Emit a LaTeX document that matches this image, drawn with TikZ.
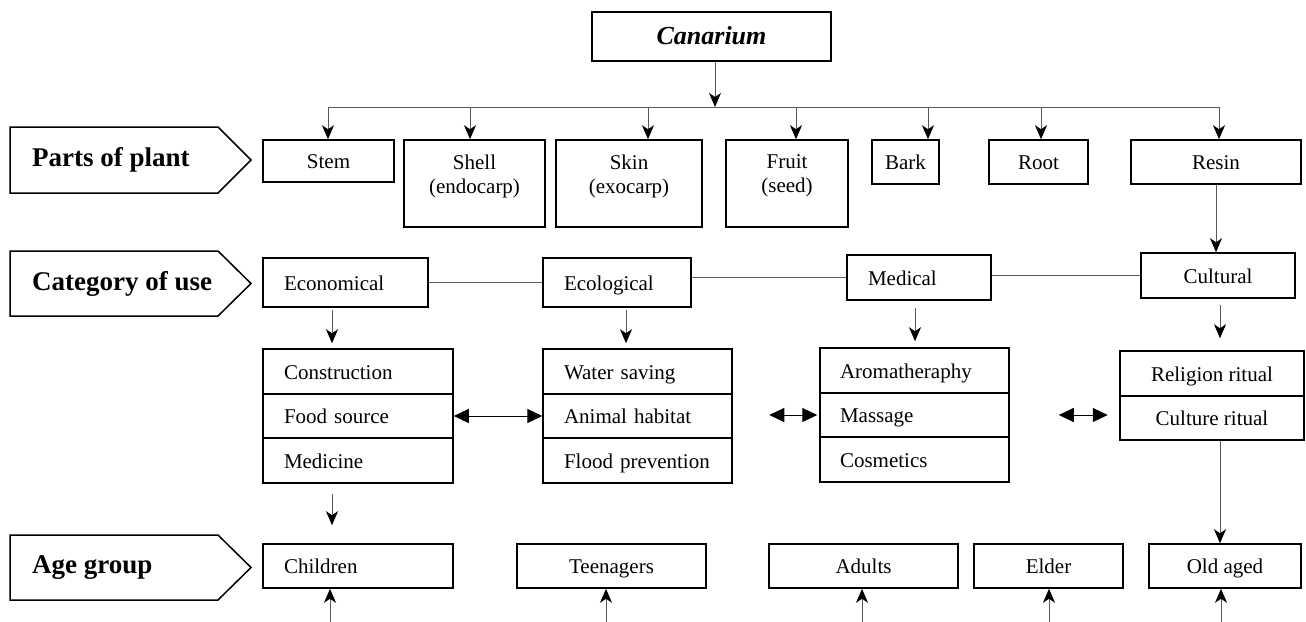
\documentclass[tikz,border=0pt]{standalone}
\usepackage{fontspec}
\setmainfont{Liberation Serif}
\usetikzlibrary{arrows.meta}

\begin{document}
\begin{tikzpicture}[x=1pt, y=-1pt, font=\fontsize{21}{24}\selectfont,
  cell/.style 2 args={draw, line width=1.5pt, inner sep=0pt, text height=18pt, text depth=3pt, minimum width=#1, minimum height=#2},
  lcell/.style 2 args={draw, line width=1.5pt, inner ysep=0pt, inner xsep=21pt, text height=18pt, text depth=3pt, text width=#1, align=left, minimum height=#2},
  tag/.style={draw, line width=1.5pt},
  head/.style={font=\fontsize{27}{30}\selectfont\bfseries, anchor=west, inner sep=0pt},
  link/.style={line width=1pt, black!65},
  arr/.style={link, -{Stealth[length=14pt, width=12pt, inset=4pt, color=black, fill=black]}},
  dbl/.style={line width=1pt, {Triangle[length=15pt, width=14pt]}-{Triangle[length=15pt, width=14pt]}}]

  \useasboundingbox (0,0) rectangle (1306,621);

  % row labels
  \draw[tag] (10,127) -- (218,127) -- (251,160) -- (218,193) -- (10,193) -- cycle;
  \node[head] (parts) at (32,160) {Parts of plant};
  \draw[tag] (10,251) -- (218,251) -- (251,283.5) -- (218,316) -- (10,316) -- cycle;
  \node[head] (category) at (32,283.5) {Category of use};
  \draw[tag] (10,535) -- (218,535) -- (251,567.5) -- (218,600) -- (10,600) -- cycle;
  \node[head] (age) at (32,567.5) {Age group};

  % plant and its parts
  \node[cell={239pt}{49pt}, font=\fontsize{26}{30}\selectfont\bfseries\itshape] (canarium) at (711.5,36.5) {Canarium};
  \coordinate (bus) at (715,107);
  \node[cell={131pt}{42pt}] (stem) at (328.5,161) {Stem};
  \node[cell={141pt}{87pt}] (shell) at (474.5,183.5) {};
  \node[cell={146pt}{87pt}] (skin) at (629,183.5) {};
  \node[cell={122pt}{87pt}] (fruit) at (787,183.5) {};
  \node[align=center] (shell-txt) at ([yshift=-37pt]shell.north) {Shell\\(endocarp)};
  \node[align=center] (skin-txt) at ([yshift=-37pt]skin.north) {Skin\\(exocarp)};
  \node[align=center] (fruit-txt) at ([yshift=-37pt]fruit.north) {Fruit\\(seed)};
  \node[cell={67pt}{44pt}] (bark) at (905.5,162) {Bark};
  \node[cell={99pt}{44pt}] (root) at (1038.5,162) {Root};
  \node[cell={170pt}{44pt}] (resin) at (1216,162) {Resin};

  % categories
  \node[lcell={123pt}{49pt}] (economical) at (345.5,282.5) {Economical};
  \node[lcell={106pt}{49pt}] (ecological) at (617,282.5) {Ecological};
  \node[lcell={102pt}{45pt}] (medical) at (919,277.5) {Medical};
  \node[cell={154pt}{45pt}] (cultural) at (1218,275.5) {Cultural};

  \node[lcell={148pt}{45pt}] (construction) at (358,371.5) {Construction};
  \node[lcell={148pt}{44pt}] (food) at (358,416) {Food source};
  \node[lcell={148pt}{45pt}] (medicine) at (358,460.5) {Medicine};

  \node[lcell={147pt}{45pt}] (water) at (637.5,371.5) {Water saving};
  \node[lcell={147pt}{44pt}] (habitat) at (637.5,416) {Animal habitat};
  \node[lcell={147pt}{45pt}] (flood) at (637.5,460.5) {Flood prevention};

  \node[lcell={149pt}{45pt}, inner xsep=20pt] (aroma) at (914.5,370.5) {Aromatheraphy};
  \node[lcell={149pt}{44pt}, inner xsep=20pt] (massage) at (914.5,415) {Massage};
  \node[lcell={149pt}{45pt}, inner xsep=20pt] (cosmetics) at (914.5,459.5) {Cosmetics};

  \node[cell={184pt}{45pt}] (religion) at (1212,373.5) {Religion ritual};
  \node[cell={184pt}{44pt}] (culture) at (1212,418) {Culture ritual};

  % age groups
  \node[lcell={148pt}{44pt}] (children) at (358,566) {Children};
  \node[cell={189pt}{44pt}] (teenagers) at (611.5,566) {Teenagers};
  \node[cell={189pt}{44pt}] (adults) at (863.5,566) {Adults};
  \node[cell={149pt}{44pt}] (elder) at (1048.5,566) {Elder};
  \node[cell={152pt}{44pt}] (oldaged) at (1225,566) {Old aged};

  % connectors
  \draw[link] ([xshift=-0.5pt]stem.north |- bus) -- ([xshift=3pt]resin.north |- bus);
  \path[arr]
    ([xshift=3.5pt]canarium.south) edge ([xshift=3.5pt]canarium.south |- bus)
    ([xshift=-0.5pt]stem.north |- bus) edge ([xshift=-0.5pt]stem.north)
    ([xshift=-4.5pt]shell.north |- bus) edge ([xshift=-4.5pt]shell.north)
    ([xshift=19pt]skin.north |- bus) edge ([xshift=19pt]skin.north)
    ([xshift=9pt]fruit.north |- bus) edge ([xshift=9pt]fruit.north)
    ([xshift=22.5pt]bark.north |- bus) edge ([xshift=22.5pt]bark.north)
    ([xshift=2.5pt]root.north |- bus) edge ([xshift=2.5pt]root.north)
    ([xshift=3pt]resin.north |- bus) edge ([xshift=3pt]resin.north)
    (resin.south) edge (resin.south |- cultural.north);

  \path[link]
    (economical) edge (ecological)
    (ecological.east |- medical) edge (medical)
    (medical.east |- cultural) edge (cultural);

  \path[arr]
    ([xshift=-13.5pt]economical.south) edge[shorten <=2pt, shorten >=5pt] ([xshift=-13.5pt]economical.south |- construction.north)
    ([xshift=9pt]ecological.south) edge[shorten <=2pt, shorten >=5pt] ([xshift=9pt]ecological.south |- water.north)
    ([xshift=-4pt]medical.south) edge[shorten <=7pt, shorten >=6pt] ([xshift=-4pt]medical.south |- aroma.north)
    ([xshift=2pt]cultural.south) edge[shorten <=6pt, shorten >=12pt] ([xshift=2pt]cultural.south |- religion.north)
    ([xshift=-26pt]medicine.south) edge[shorten <=10pt, shorten >=18pt] ([xshift=-26pt]medicine.south |- children.north)
    ([xshift=8pt]culture.south) edge ([xshift=8pt]culture.south |- oldaged.north);

  \path[dbl]
    (food) edge (habitat)
    ([xshift=-50pt]massage.west) edge ([xshift=-2pt]massage.west)
    ([xshift=49pt]massage.east) edge ([xshift=98pt]massage.east);

  \path[arr]
    ([xshift=-28pt, yshift=-33pt]children.south) edge ([xshift=-28pt]children.south)
    ([xshift=-5.5pt, yshift=-33pt]teenagers.south) edge ([xshift=-5.5pt]teenagers.south)
    ([xshift=-1.5pt, yshift=-33pt]adults.south) edge ([xshift=-1.5pt]adults.south)
    ([xshift=0.5pt, yshift=-33pt]elder.south) edge ([xshift=0.5pt]elder.south)
    ([xshift=-4pt, yshift=-33pt]oldaged.south) edge ([xshift=-4pt]oldaged.south);
\end{tikzpicture}
\end{document}
